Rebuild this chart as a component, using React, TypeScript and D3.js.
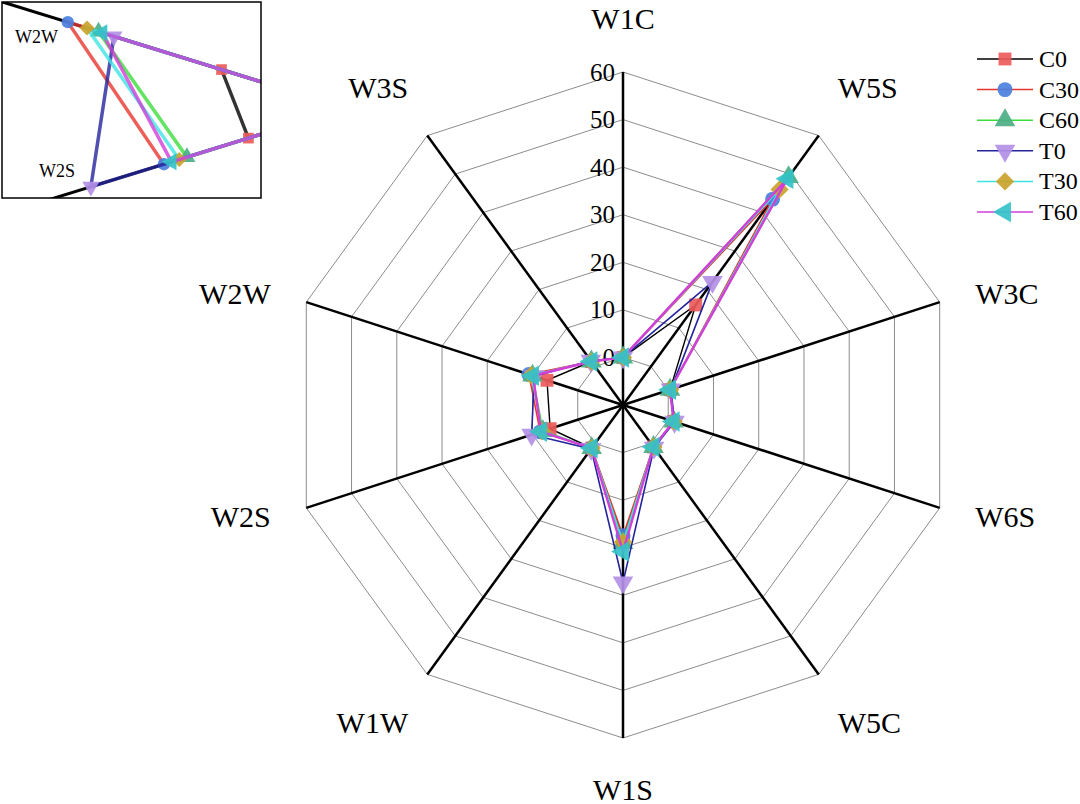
import React from 'react';
import * as d3 from 'd3';

// axes clockwise from the top
const axes = ['W1C', 'W5S', 'W3C', 'W6S', 'W5C', 'W1S', 'W1W', 'W2S', 'W2W', 'W3S'];
const seriesNames = ['C0', 'C30', 'C60', 'T0', 'T30', 'T60'];

const C0 = [0, 16, 0.4, 1.2, 0.9, 18.3, 1.2, 6.1, 6.8, 1.3];
const C30 = [0, 43.5, 0.4, 1.2, 0.9, 17.5, 1.2, 8.3, 10.8, 1.3];
const C60 = [0, 49.2, 0.4, 1.2, 0.9, 19.0, 1.2, 7.7, 10.0, 1.3];
const T0 = [0, 22, 0.6, 1.4, 1.1, 27.3, 1.4, 10.2, 9.6, 1.5];
const T30 = [0, 46, 0.4, 1.2, 0.9, 18.8, 1.2, 7.9, 10.3, 1.3];
const T60 = [0, 48.8, 0.4, 1.2, 0.9, 20.8, 1.2, 8.1, 9.9, 1.3];
const seriesValues = [C0, C30, C60, T0, T30, T60];

const radialTicks = [0, 10, 20, 30, 40, 50, 60];

const lineColors = ['#000000', '#e8362f', '#3ddc3d', '#24249c', '#3fe3e3', '#d23fd8'];
const lineWidths = [1.4, 1.6, 1.6, 1.6, 1.6, 2.4];
const markerColors = ['#ee5b5b', '#4a80de', '#4caf84', '#b38fe6', '#c9a32a', '#33c2c8'];
const markerShapes = ['square', 'circle', 'up', 'down', 'diamond', 'left'];

const FONT = "'Liberation Serif', 'Times New Roman', serif";
const W = 1080;
const H = 804;
const cx = 623;
const cy = 405;

const rScale = d3.scaleLinear().domain([-10, 60]).range([0, 333]);

// inset: zoom on W2W / W2S
const insetBox = { x: 2, y: 2, w: 259, h: 196 };
const icx = 346;
const icy = 108;
const insetSquash = 0.95;
const riScale = d3.scaleLinear().domain([3.56, 10.8]).range([0, 292.5]).clamp(true);

const angle = (i: number) => (i * 2 * Math.PI) / axes.length;

const pt = (v: number, i: number, scale: (v: number) => number, ox: number, oy: number, sy = 1): [number, number] => {
  const rr = scale(v);
  return [ox + rr * Math.sin(angle(i)), oy - sy * rr * Math.cos(angle(i))];
};

const markerPath = (shape: string, size: number) => {
  if (shape === 'circle') return d3.symbol().type(d3.symbolCircle).size(size)()!;
  if (shape === 'square' || shape === 'diamond') return d3.symbol().type(d3.symbolSquare).size(size * 0.95)()!;
  return d3.symbol().type(d3.symbolTriangle).size(size * 1.05)()!;
};
const markerRot = (shape: string) =>
  shape === 'down' ? 180 : shape === 'left' ? -90 : shape === 'diamond' ? 45 : 0;

const Marker: React.FC<{ x: number; y: number; s: number; size?: number }> = ({ x, y, s, size = 175 }) => (
  <path
    d={markerPath(markerShapes[s], size)}
    transform={`translate(${x},${y}) rotate(${markerRot(markerShapes[s])})`}
    fill={markerColors[s]}
    fillOpacity={0.92}
  />
);

const lineGen = d3.line<[number, number]>().curve(d3.curveLinearClosed);

const labelPos = (i: number) => {
  const a = angle(i);
  const s = Math.sin(a);
  const c = Math.cos(a);
  const ax = cx + 362 * s;
  const ay = cy - 362 * c;
  if (Math.abs(s) < 0.1) return { x: ax, y: ay - Math.sign(c) * (c > 0 ? 25 : 22), anchor: 'middle' };
  if (Math.abs(c) > 0.5)
    return { x: ax + Math.sign(s) * 2, y: ay - Math.sign(c) * 25, anchor: s > 0 ? 'start' : 'end' };
  return { x: ax + Math.sign(s) * 8, y: ay, anchor: s > 0 ? 'start' : 'end' };
};

export default function App() {
  const outer = rScale(60);
  return (
    <svg
      width={W}
      height={H}
      style={{ position: 'absolute', left: 0, top: 0, background: '#fff', fontFamily: FONT }}
    >
      <rect width={W} height={H} fill="#fff" />

      {/* grid polygons */}
      {radialTicks.map((t) => (
        <path
          key={'g' + t}
          d={lineGen(axes.map((_, i) => pt(t, i, rScale, cx, cy)))!}
          fill="none"
          stroke="#8c8c8c"
          strokeWidth={1}
        />
      ))}

      {/* spokes */}
      {axes.map((_, i) => (
        <line
          key={'s' + i}
          x1={cx}
          y1={cy}
          x2={cx + outer * Math.sin(angle(i))}
          y2={cy - outer * Math.cos(angle(i))}
          stroke="#000"
          strokeWidth={2.5}
        />
      ))}

      {/* radial tick labels */}
      {radialTicks.map((t) => (
        <text
          key={'t' + t}
          x={cx - 8}
          y={cy - rScale(t)}
          textAnchor="end"
          dominantBaseline="central"
          fontSize={25}
        >
          {t}
        </text>
      ))}

      {/* axis labels */}
      {axes.map((a, i) => {
        const p = labelPos(i);
        return (
          <text
            key={'l' + a}
            x={p.x}
            y={p.y}
            textAnchor={p.anchor}
            dominantBaseline="central"
            fontSize={30}
          >
            {a}
          </text>
        );
      })}

      {/* series */}
      {seriesValues.map((vals, s) => {
        const pts = vals.map((v, i) => pt(v, i, rScale, cx, cy));
        return (
          <g key={'ser' + s}>
            <path d={lineGen(pts)!} fill="none" stroke={lineColors[s]} strokeWidth={lineWidths[s]} />
            {pts.map((p, i) => (
              <Marker key={i} x={p[0]} y={p[1]} s={s} />
            ))}
          </g>
        );
      })}

      {/* legend */}
      {seriesNames.map((n, s) => {
        const y = 59 + s * 30.6;
        return (
          <g key={'lg' + n}>
            <line x1={977} x2={1033} y1={y} y2={y} stroke={lineColors[s]} strokeWidth={1.5} />
            <Marker x={1005} y={y} s={s} />
            <text x={1039} y={y} dominantBaseline="central" fontSize={24}>
              {n}
            </text>
          </g>
        );
      })}

      {/* inset */}
      <defs>
        <clipPath id="insetClip">
          <rect x={insetBox.x} y={insetBox.y} width={insetBox.w} height={insetBox.h} />
        </clipPath>
      </defs>
      <rect x={insetBox.x} y={insetBox.y} width={insetBox.w} height={insetBox.h} fill="#fff" />
      <g clipPath="url(#insetClip)">
        {[7, 8].map((i) => (
          <line
            key={'is' + i}
            x1={icx}
            y1={icy}
            x2={icx + 600 * Math.sin(angle(i))}
            y2={icy - insetSquash * 600 * Math.cos(angle(i))}
            stroke="#000"
            strokeWidth={3}
          />
        ))}
        {seriesValues.map((vals, s) => {
          const pts = vals.map((v, i) => pt(v, i, riScale, icx, icy, insetSquash));
          return (
            <g key={'iser' + s}>
              <path d={lineGen(pts)!} fill="none" stroke={lineColors[s]} strokeWidth={3.5} strokeOpacity={0.8} />
              {pts.map((p, i) => (
                <Marker key={i} x={p[0]} y={p[1]} s={s} size={120} />
              ))}
            </g>
          );
        })}
        <text x={15} y={43} fontSize={18}>W2W</text>
        <text x={39} y={177} fontSize={18}>W2S</text>
      </g>
      <rect
        x={insetBox.x}
        y={insetBox.y}
        width={insetBox.w}
        height={insetBox.h}
        fill="none"
        stroke="#000"
        strokeWidth={1.5}
      />
    </svg>
  );
}
